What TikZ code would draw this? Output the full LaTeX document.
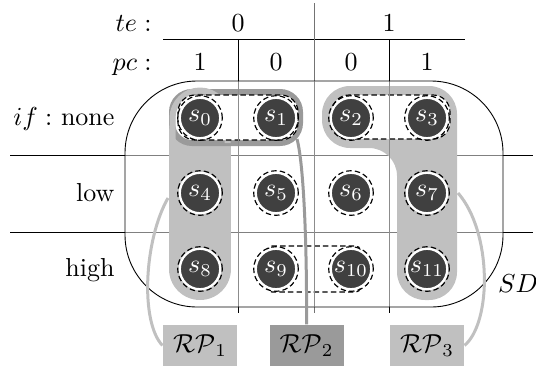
\documentclass[tikz,border=0pt]{standalone}
\definecolor{rplight}{HTML}{C0C0C0}
\definecolor{rpdark}{HTML}{9A9A9A}
\definecolor{statefill}{HTML}{404040}
% one drawing unit
\newcommand\pxlen{0.3846pt}
\begin{document}
\begin{tikzpicture}[x=\pxlen,y=-\pxlen,
  font=\normalsize,
  rule/.style={line width=0.9*\pxlen},
  innerrule/.style={line width=0.9*\pxlen, black!45},
  statenode/.style={circle, fill=statefill, draw=white, line width=2.2*\pxlen,
    minimum size=40.4*\pxlen, inner sep=0pt, text=white},
  dashring/.style={line width=1.15*\pxlen, dash pattern=on 2.1pt off 1.2pt},
  lbl/.style={inner sep=0pt, anchor=base},
  rowlbl/.style={inner sep=0pt, anchor=base east},
  rpbox/.style={minimum width=74*\pxlen, minimum height=41*\pxlen, inner sep=0pt},
  link/.style={line width=3*\pxlen}]
\useasboundingbox (0,0) rectangle (536,367);

% table rules
\draw[rule] (163,39) -- (465,39);
\draw[rule] (10,155) -- (533,155);
\draw[rule] (10,232) -- (533,232);
\draw[rule] (238,39) -- (238,313);
\draw[rule] (389,39) -- (389,313);
\draw[rule, black!55] (314,3) -- (314,313);

% state domain SD
\path[fill=white, fill opacity=0.5, rounded corners=72*\pxlen] (125,81) rectangle (503,307);
\draw[rule, rounded corners=72*\pxlen] (125,81) rectangle (503,307);

% region RP1: column s0, s4, s8
\draw[rplight, line width=62*\pxlen, line cap=round] (200,132) -- (200,269);
% region RP3: s2, s3 and column s7, s11
\fill[rplight, rounded corners=28*\pxlen] (322,86) -- (457,86) -- (457,300) -- (397,300)
  -- (397,148) -- (322,148) -- cycle;
% region RP2: s0, s1
\draw[rpdark, line width=6*\pxlen, fill=white, rounded corners=20*\pxlen] (172,92) rectangle (300,143);
\draw[rplight, line width=6*\pxlen, rounded corners=27.5*\pxlen] (172.5,143) -- (172.5,90.5)
  -- (227.5,90.5) -- (227.5,143);

% dashed groups
\draw[dashring, fill=white, rounded corners=17*\pxlen] (178,95) rectangle (298,140);
\draw[dashring, fill=white, rounded corners=17*\pxlen] (332,95) rectangle (450,139);
\draw[dashring, rounded corners=4*\pxlen] (268,246) rectangle (360,292);

% column rules over the regions
\draw[innerrule] (238,82) -- (238,306);
\draw[innerrule] (389,82) -- (389,306);
\draw[innerrule] (314,82) -- (314,306);

% region labels
\node[rpbox, fill=rplight] (rp1) at (200,345.5) {$\mathcal{RP}_1$};
\node[rpbox, fill=rpdark] (rp2) at (306.5,345.5) {$\mathcal{RP}_2$};
\node[rpbox, fill=rplight] (rp3) at (427,345.5) {$\mathcal{RP}_3$};

% connectors from regions to labels
\coordinate (rp1end) at (168,198);
\coordinate (rp2end) at (297,139);
\coordinate (rp3end) at (458,193);
\draw[link, rplight] (rp1end) .. controls (144,240) and (140,322) .. (rp1.west);
\draw[link, rpdark] (rp2end) .. controls (304,165) and (307,250) .. (rp2.north);
\draw[link, rplight] (rp3end) .. controls (492,232) and (492,322) .. (rp3.east);

% states
\foreach \i/\x/\y in {0/200/118, 1/276/118, 2/351/118, 3/427/118,
                      4/200/193, 5/276/193, 6/351/193, 7/427/193,
                      8/200/269, 9/276/269, 10/351/269, 11/427/269} {
  \node[statenode] (s\i) at (\x,\y) {$s_{\i}$};
  \draw[dashring] (s\i.center) circle[radius=22.3*\pxlen];
}

% headers
\node[rowlbl] (telbl) at (152,31) {$te:$};
\node[lbl] (te0) at (238,31) {0};
\node[lbl] (te1) at (389,31) {1};
\node[rowlbl] (pclbl) at (152,70) {$pc:$};
\node[lbl] (pc1a) at (200,70) {1};
\node[lbl] (pc0a) at (276,70) {0};
\node[lbl] (pc0b) at (351,70) {0};
\node[lbl] (pc1b) at (427,70) {1};
\node[rowlbl] (ifnone) at (115,125) {$if:$ none};
\node[rowlbl] (iflow) at (115,201) {low};
\node[rowlbl] (ifhigh) at (115,276) {high};
\node[lbl] (sdlbl) at (518,292) {$SD$};
\end{tikzpicture}
\end{document}
